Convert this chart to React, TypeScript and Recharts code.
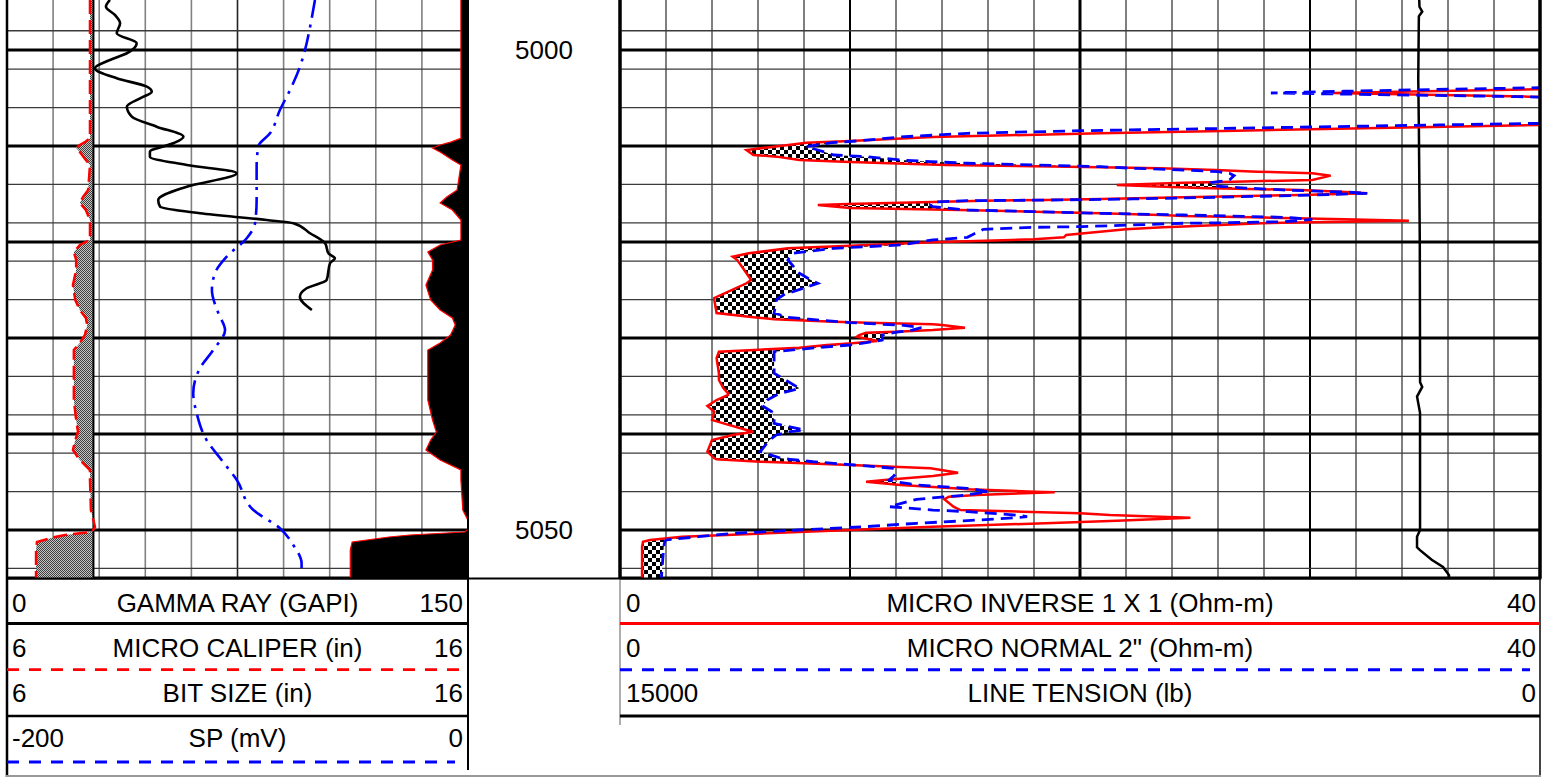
import React from 'react';
import { ComposedChart, Line, Area, XAxis, YAxis, CartesianGrid } from 'recharts';

const FONT = "'Liberation Sans', Arial, sans-serif";

// depth window (ft). The plot starts 30px above the page, so its top edge is out of view.
const depthTop = 4991.67;
const depthBottom = 5055;
const depthMinorTicks = [4996, 4998, 5000, 5002, 5004, 5006, 5008, 5010, 5012, 5014, 5016, 5018, 5020, 5022, 5024, 5026, 5028, 5030, 5032, 5034, 5036, 5038, 5040, 5042, 5044, 5046, 5048, 5050, 5052, 5054];
const depthMajorTicks = [5000, 5010, 5020, 5030, 5040, 5050];
const depthLabels = [5000, 5050];

const grMinorTicks = [15, 30, 45, 60, 90, 105, 120, 135];
const grMidTicks = [75];
const resMinorTicks = [2, 4, 6, 8, 12, 14, 16, 18, 22, 24, 26, 28, 32, 34, 36, 38];
const resMajorTicks = [10, 30];
const resMidTicks = [20];

// gamma ray
const grDepth = [4994.79, 4995.49, 4996.35, 4997.22, 4998.26, 4999.3, 5000.34, 5001.04, 5001.9, 5002.95, 5003.82, 5004.34, 5005.03, 5005.9, 5006.95, 5007.99, 5009.03, 5009.72, 5010.59, 5011.11, 5011.98, 5012.84, 5014.24, 5015.63, 5016.32, 5017.01, 5017.71, 5018.05, 5019.09, 5020.14, 5021.18, 5021.7, 5022.22, 5023.96, 5024.82, 5025.7, 5027.08];
const grValue = [33.5, 32.2, 35.1, 36.8, 35.7, 42.2, 39, 33.5, 28.6, 35.7, 45.5, 47.1, 43.3, 39, 40.6, 48.7, 57.4, 54.1, 46.5, 46.5, 58.5, 74.7, 58.5, 49.2, 49.8, 62.8, 84.5, 93.2, 98.6, 103.5, 104.6, 106.7, 105.1, 104, 97.5, 95.3, 99.2];

// SP
const spDepth = [4994.79, 4997.57, 4999.3, 5001.74, 5004.17, 5006.25, 5008.68, 5010.07, 5012.16, 5015.63, 5018.05, 5019.61, 5021.53, 5023.26, 5025.0, 5027.43, 5029.17, 5031.25, 5033.16, 5035.76, 5037.84, 5040.63, 5042.71, 5044.79, 5047.92, 5049.82, 5051.56, 5053.47, 5053.96];
const spValue = [-66.4, -68.5, -70, -72.9, -77.2, -81.6, -85.9, -91, -91.7, -91.7, -92.4, -96, -104.7, -109.8, -111.1, -108.3, -105.4, -110.5, -116.3, -119.2, -117.7, -113.4, -106.9, -100.3, -93.1, -81.6, -75.8, -72.2, -72.2];

// micro caliper and bit size
const calDepth = [4994.79, 5009.2, 5009.6, 5009.9, 5010.21, 5010.63, 5011.46, 5011.98, 5014.58, 5015.31, 5015.94, 5016.67, 5017.71, 5019.79, 5020.31, 5021.04, 5021.88, 5022.92, 5024.48, 5026.04, 5027.08, 5027.92, 5028.65, 5029.69, 5030.52, 5031.25, 5033.33, 5036.46, 5038.54, 5039.79, 5040.63, 5041.67, 5042.71, 5043.75, 5044.79, 5047.92, 5049.69, 5050.21, 5050.52, 5050.73, 5051.25, 5052.08, 5055];
const calValue = [7.8, 7.8, 7.69, 7.58, 7.5, 7.58, 7.71, 7.8, 7.76, 7.65, 7.58, 7.71, 7.8, 7.8, 7.58, 7.45, 7.5, 7.5, 7.43, 7.48, 7.58, 7.71, 7.74, 7.69, 7.58, 7.45, 7.45, 7.45, 7.5, 7.54, 7.48, 7.43, 7.58, 7.8, 7.8, 7.82, 7.91, 7.84, 7.26, 7.04, 6.65, 6.63, 6.63];
const bitDepth = [4991.67, 5055];
const bitValue = [7.875, 7.875];

// line tension
const tenDepth = [4994.79, 4995.5, 4996.0, 4996.5, 5003, 5008, 5020, 5034.6, 5035.1, 5036.1, 5037.8, 5050.0, 5050.7, 5051.8, 5052.1, 5053.1, 5053.85, 5054.7, 5055];
const tenValue = [1969, 1965, 1920, 1975, 1985, 1975, 1960, 1955, 1920, 2005, 1956, 1956, 2005, 2005, 1957, 1766, 1582, 1484, 1484];

// micro inverse / micro normal, sampled on the same depths
const microDepth = [4994.79, 5003.7, 5003.93, 5004.09, 5004.3, 5004.48, 5004.65, 5004.86, 5004.95, 5005.2, 5007.4, 5007.64, 5007.81, 5008.41, 5008.68, 5009.06, 5009.48, 5009.66, 5010.07, 5010.42, 5010.94, 5011.11, 5011.46, 5011.63, 5011.8, 5011.98, 5012.16, 5012.32, 5012.5, 5012.68, 5012.84, 5013.09, 5013.54, 5013.72, 5013.82, 5014.06, 5014.17, 5014.38, 5014.58, 5014.82, 5014.93, 5015.1, 5015.34, 5015.52, 5015.63, 5015.7, 5015.83, 5016.04, 5016.15, 5016.32, 5016.46, 5016.67, 5016.84, 5017.01, 5017.19, 5017.29, 5017.43, 5017.5, 5017.64, 5017.78, 5017.89, 5017.99, 5018.05, 5018.4, 5018.47, 5018.68, 5019.27, 5019.51, 5019.72, 5019.79, 5020.03, 5020.31, 5020.39, 5020.66, 5021.18, 5021.53, 5021.88, 5023.26, 5023.96, 5024.3, 5025.52, 5025.83, 5026.04, 5027.4, 5027.84, 5028.05, 5028.3, 5028.4, 5028.57, 5028.65, 5028.93, 5029.17, 5029.34, 5029.45, 5029.69, 5029.86, 5030.21, 5030.31, 5030.55, 5030.73, 5031.01, 5031.18, 5031.43, 5032.11, 5033.68, 5034.38, 5035.24, 5035.76, 5035.94, 5036.46, 5037.08, 5037.68, 5038.54, 5038.89, 5039.58, 5039.76, 5040.1, 5040.63, 5041.84, 5042.53, 5042.64, 5042.89, 5043.05, 5043.23, 5043.57, 5044.03, 5044.38, 5044.79, 5044.97, 5045.31, 5045.66, 5045.76, 5046.01, 5046.07, 5046.35, 5046.53, 5046.8, 5047.57, 5047.92, 5048.09, 5048.26, 5048.44, 5048.61, 5048.72, 5049.03, 5049.3, 5049.65, 5050.0, 5050.35, 5050.7, 5051.04, 5051.22, 5051.74, 5055];
const microInverse = [48, 48, 43, 40, 35, 31, 34.5, 39.5, 41, 48, 48, 43, 40, 26.8, 20.9, 13.6, 10, 8.1, 6.7, 5.5, 5.8, 6.8, 7.8, 9.7, 11.7, 14.2, 19.5, 23.5, 25.9, 27.7, 30.1, 30.9, 30.1, 26.7, 24.5, 21.6, 22.8, 25.2, 29.6, 31.8, 32.5, 29.6, 24.5, 20.9, 18.5, 15.8, 13.6, 9.9, 8.6, 9.4, 10, 14.8, 18, 20.9, 23.5, 24.5, 27.5, 28.8, 31.5, 34.3, 31.5, 28.8, 27.9, 24.5, 23.6, 22, 19.4, 19.3, 18, 17, 13.6, 10.8, 10, 7.3, 5.6, 4.9, 5.1, 5.5, 5.7, 5.5, 4.4, 4.1, 4.1, 4.2, 5.8, 6.7, 9.3, 10.8, 13.6, 14, 15, 13.6, 12, 10.7, 10.4, 10.3, 11, 11.2, 10.1, 9, 7.8, 6.4, 4.3, 4.2, 4.3, 4.3, 4.5, 4.7, 4.7, 4.2, 3.8, 4.1, 4, 4.5, 5.5, 5.8, 4.9, 4, 3.8, 4.1, 4.2, 6.1, 8, 10, 13.5, 14.7, 13.6, 11.5, 10.7, 12.2, 14.5, 15.1, 18, 18.9, 15.5, 14.3, 14.1, 14.5, 14.8, 17.5, 20, 21.3, 23.5, 24.8, 21.6, 18.5, 13.6, 10, 6.4, 2.7, 1.3, 1.0, 0.96, 0.96];
const microNormal = [48, 48, 40, 36, 31.5, 28.3, 33, 39, 41, 48, 48, 40, 35.6, 20.1, 15.1, 12.2, 10.3, 9.2, 8.1, 8.6, 9.3, 10.7, 12.2, 13.5, 15.1, 18, 20.9, 22.3, 24.5, 26, 26.5, 26.7, 26.5, 26, 25.7, 25.7, 25.9, 27.2, 28.8, 31.7, 32.5, 30.3, 26, 22.3, 18.7, 15.1, 13.7, 13.5, 13.5, 13.6, 14.2, 15.1, 18, 20.9, 24.5, 26.4, 28.8, 29.3, 30.1, 29.5, 28.8, 26.5, 24.5, 20.1, 18, 15.8, 15.3, 15.1, 14, 13.6, 12.9, 12.2, 11.5, 9.3, 7.5, 7.4, 7.3, 7.8, 8.3, 8.6, 7.1, 6.9, 6.8, 6.7, 7.3, 8.2, 9.5, 10, 11.4, 12.2, 13.1, 12.7, 12.2, 11.9, 11.4, 11.4, 11.4, 11.2, 10.5, 10, 8.5, 7.8, 6.7, 6.7, 6.7, 7.2, 7.8, 7, 6.8, 6.4, 6.2, 6.6, 6.7, 6.7, 8, 7.4, 6.8, 6.5, 6.1, 7, 7.4, 8.4, 9.3, 10.2, 11.9, 12, 11.9, 11.7, 12, 12.9, 15.1, 15.4, 16, 15.8, 15.1, 14.2, 12.9, 11.7, 13.6, 15.1, 16.2, 17.2, 17.7, 17.2, 15.1, 12.9, 10.7, 7.8, 4.9, 3.4, 2, 1.95, 1.9, 1.8];

// header labels
const leftNames = ['GAMMA RAY (GAPI)', 'MICRO CALIPER (in)', 'BIT SIZE (in)', 'SP (mV)'];
const leftMin = ['0', '6', '6', '-200'];
const leftMax = ['150', '16', '16', '0'];
const rightNames = ['MICRO INVERSE 1 X 1 (Ohm-m)', 'MICRO NORMAL 2" (Ohm-m)', 'LINE TENSION (lb)'];
const rightMin = ['0', '0', '15000'];
const rightMax = ['40', '40', '0'];

const bitSize = bitValue[0];
const grRows = grDepth.map((depth, i) => ({ depth, gr: grValue[i] }));
const spRows = spDepth.map((depth, i) => ({ depth, sp: spValue[i] }));
const bitRows = bitDepth.map((depth, i) => ({ depth, bit: bitValue[i] }));
const calRows = calDepth.map((depth, i) => ({
  depth,
  cal: calValue[i],
  calFill: [calValue[i], Math.max(calValue[i], bitSize)],
  mirrorFill: [calValue[i], 8],
}));
const tenRows = tenDepth.map((depth, i) => ({ depth, ten: tenValue[i] }));
const microRows = microDepth.map((depth, i) => ({
  depth,
  inv: microInverse[i],
  nor: microNormal[i],
  fill: [microInverse[i], Math.max(microInverse[i], microNormal[i])],
}));

const leftRules = [
  { stroke: '#000', w: 3, dash: undefined, x2: 468 },
  { stroke: '#ff0000', w: 2.8, dash: '12 10', x2: 460 },
  { stroke: '#000', w: 2.5, dash: undefined, x2: 468 },
  { stroke: '#0000ff', w: 3, dash: '12 10', x2: 455 },
];
const rightRules = [
  { stroke: '#ff0000', w: 3, dash: undefined, x2: 1540 },
  { stroke: '#0000ff', w: 3, dash: '12 10', x2: 1530 },
  { stroke: '#000', w: 3, dash: undefined, x2: 1540 },
];

// depth column is 152px wide; labels sit in its middle
function DepthTick(props: any) {
  const { y, payload } = props;
  return (
    <text x={76} y={y} dy="0.36em" textAnchor="middle" fontSize={26} fontFamily={FONT} fill="#000">
      {payload.value}
    </text>
  );
}

const depthAxis = (id: string, ticks: number[]) => (
  <YAxis yAxisId={id} type="number" dataKey="depth" domain={[depthTop, depthBottom]} ticks={ticks} allowDataOverflow hide />
);

export default function App() {
  return (
    <div style={{ position: 'absolute', left: 0, top: 0, width: 1554, height: 777, overflow: 'hidden', background: '#fff' }}>
      <div style={{ position: 'absolute', left: 0, top: -30 }}>
        <ComposedChart layout="vertical" width={480} height={620} margin={{ top: 0, right: 12, bottom: 12, left: 7 }}>
          <defs>
            <pattern id="calDither" width="2" height="2" patternUnits="userSpaceOnUse">
              <rect width="2" height="2" fill="#c4c4c4" />
              <rect width="1" height="1" fill="#404040" />
              <rect x="1" y="1" width="1" height="1" fill="#404040" />
            </pattern>
          </defs>
          {depthAxis('d', depthMinorTicks)}
          {depthAxis('dMaj', depthMajorTicks)}
          <XAxis xAxisId="gr" type="number" domain={[0, 150]} ticks={grMinorTicks} allowDataOverflow hide />
          <XAxis xAxisId="grMid" type="number" domain={[0, 150]} ticks={grMidTicks} allowDataOverflow hide />
          <XAxis xAxisId="cal" type="number" domain={[6, 16]} allowDataOverflow hide />
          <XAxis xAxisId="mirror" type="number" domain={[3, 7.875]} allowDataOverflow hide />
          <XAxis xAxisId="sp" type="number" domain={[-200, 0]} allowDataOverflow hide />
          <CartesianGrid xAxisId="gr" yAxisId="d" horizontal={false} stroke="#808080" strokeWidth={1.6} />
          <CartesianGrid xAxisId="grMid" yAxisId="d" horizontal={false} stroke="#222" strokeWidth={1.6} />
          <CartesianGrid xAxisId="gr" yAxisId="d" vertical={false} stroke="#3a3a3a" strokeWidth={1.3} />
          <CartesianGrid xAxisId="gr" yAxisId="dMaj" vertical={false} stroke="#000" strokeWidth={3} />
          <Area xAxisId="cal" yAxisId="d" data={calRows} dataKey="calFill" type="linear" fill="url(#calDither)" fillOpacity={1} stroke="none" isAnimationActive={false} />
          <Area xAxisId="mirror" yAxisId="d" data={calRows} dataKey="mirrorFill" type="linear" fill="#000" fillOpacity={1} stroke="none" isAnimationActive={false} />
          <Line xAxisId="mirror" yAxisId="d" data={calRows} dataKey="cal" type="linear" stroke="#ff0000" strokeWidth={1.2} dot={false} isAnimationActive={false} />
          <Line xAxisId="cal" yAxisId="d" data={bitRows} dataKey="bit" type="linear" stroke="#000" strokeWidth={2} dot={false} isAnimationActive={false} />
          <Line xAxisId="cal" yAxisId="d" data={calRows} dataKey="cal" type="linear" stroke="#ff0000" strokeWidth={2.5} strokeDasharray="14 6" dot={false} isAnimationActive={false} />
          <Line xAxisId="sp" yAxisId="d" data={spRows} dataKey="sp" type="monotone" stroke="#0000ff" strokeWidth={2.6} strokeDasharray="18 7 3 7" dot={false} isAnimationActive={false} />
          <Line xAxisId="gr" yAxisId="d" data={grRows} dataKey="gr" type="monotone" stroke="#000" strokeWidth={2.6} dot={false} isAnimationActive={false} />
        </ComposedChart>
      </div>

      <div style={{ position: 'absolute', left: 468, top: -30 }}>
        <ComposedChart layout="vertical" width={1086} height={620} margin={{ top: 0, right: 14, bottom: 12, left: 0 }}>
          <defs>
            <pattern id="checker" width="8" height="8" patternUnits="userSpaceOnUse">
              <rect width="8" height="8" fill="#fff" />
              <rect width="4" height="4" fill="#000" />
              <rect x="4" y="4" width="4" height="4" fill="#000" />
            </pattern>
          </defs>
          <YAxis yAxisId="lbl" type="number" dataKey="depth" domain={[depthTop, depthBottom]} ticks={depthLabels} width={152}
            axisLine={false} tickLine={false} tick={(p: any) => <DepthTick {...p} />} allowDataOverflow />
          {depthAxis('d', depthMinorTicks)}
          {depthAxis('dMaj', depthMajorTicks)}
          <XAxis xAxisId="res" type="number" domain={[0, 40]} ticks={resMinorTicks} allowDataOverflow hide />
          <XAxis xAxisId="resMaj" type="number" domain={[0, 40]} ticks={resMajorTicks} allowDataOverflow hide />
          <XAxis xAxisId="resMid" type="number" domain={[0, 40]} ticks={resMidTicks} allowDataOverflow hide />
          <XAxis xAxisId="ten" type="number" domain={[0, 15000]} reversed allowDataOverflow hide />
          <CartesianGrid xAxisId="res" yAxisId="d" horizontal={false} stroke="#555" strokeWidth={1.5} />
          <CartesianGrid xAxisId="resMaj" yAxisId="d" horizontal={false} stroke="#000" strokeWidth={2} />
          <CartesianGrid xAxisId="resMid" yAxisId="d" horizontal={false} stroke="#000" strokeWidth={3} />
          <CartesianGrid xAxisId="res" yAxisId="d" vertical={false} stroke="#3a3a3a" strokeWidth={1.3} />
          <CartesianGrid xAxisId="res" yAxisId="dMaj" vertical={false} stroke="#000" strokeWidth={3} />
          <Area xAxisId="res" yAxisId="d" data={microRows} dataKey="fill" type="linear" fill="url(#checker)" fillOpacity={1} stroke="none" isAnimationActive={false} />
          <Line xAxisId="ten" yAxisId="d" data={tenRows} dataKey="ten" type="linear" stroke="#000" strokeWidth={2.5} dot={false} isAnimationActive={false} />
          <Line xAxisId="res" yAxisId="d" data={microRows} dataKey="inv" type="linear" stroke="#ff0000" strokeWidth={2.5} dot={false} isAnimationActive={false} />
          <Line xAxisId="res" yAxisId="d" data={microRows} dataKey="nor" type="linear" stroke="#0000ff" strokeWidth={2.8} strokeDasharray="12 7" dot={false} isAnimationActive={false} />
        </ComposedChart>
      </div>

      <svg width={1554} height={777} style={{ position: 'absolute', left: 0, top: 0, pointerEvents: 'none' }} fontFamily={FONT} fontSize={26}>
        <line x1={7} y1={0} x2={7} y2={777} stroke="#000" strokeWidth={2.5} />
        <line x1={468} y1={0} x2={468} y2={770} stroke="#000" strokeWidth={2} />
        <line x1={620} y1={0} x2={620} y2={578} stroke="#000" strokeWidth={3} />
        <line x1={620} y1={578} x2={620} y2={725} stroke="#777" strokeWidth={1.2} />
        <line x1={1540} y1={0} x2={1540} y2={578} stroke="#000" strokeWidth={3} />
        <line x1={1540} y1={578} x2={1540} y2={777} stroke="#444" strokeWidth={2} />
        <line x1={6} y1={578.5} x2={1541.5} y2={578.5} stroke="#000" strokeWidth={2} />
        <line x1={6} y1={776} x2={1541} y2={776} stroke="#999" strokeWidth={2} />
        {leftNames.map((name, i) => (
          <g key={name}>
            <text x={12} y={612 + 45 * i}>{leftMin[i]}</text>
            <text x={237.5} y={612 + 45 * i} textAnchor="middle">{name}</text>
            <text x={463} y={612 + 45 * i} textAnchor="end">{leftMax[i]}</text>
            <line x1={7} x2={leftRules[i].x2} y1={623.5 + 46.2 * i} y2={623.5 + 46.2 * i} stroke={leftRules[i].stroke} strokeWidth={leftRules[i].w} strokeDasharray={leftRules[i].dash} />
          </g>
        ))}
        {rightNames.map((name, i) => (
          <g key={name}>
            <text x={626} y={612 + 45 * i}>{rightMin[i]}</text>
            <text x={1080} y={612 + 45 * i} textAnchor="middle">{name}</text>
            <text x={1536} y={612 + 45 * i} textAnchor="end">{rightMax[i]}</text>
            <line x1={620} x2={rightRules[i].x2} y1={623.5 + 46.2 * i} y2={623.5 + 46.2 * i} stroke={rightRules[i].stroke} strokeWidth={rightRules[i].w} strokeDasharray={rightRules[i].dash} />
          </g>
        ))}
      </svg>
    </div>
  );
}
